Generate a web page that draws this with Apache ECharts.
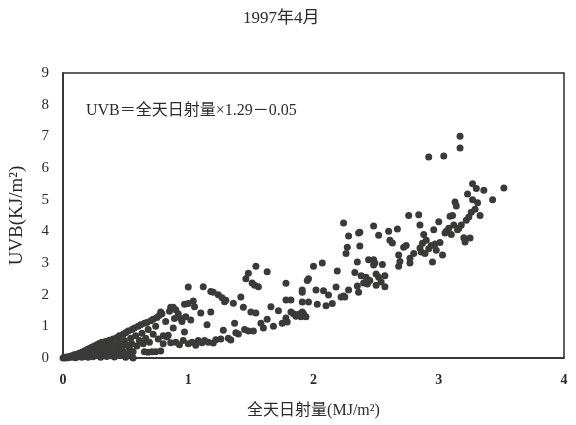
<!DOCTYPE html>
<html lang="zh-CN">
	<head>
		<meta charset="utf-8" />
		<title>1997年4月 UVB</title>
		<style>
			html, body { margin: 0; padding: 0; background: #fff; }
			#scatter { width: 576px; height: 425px; }
		</style>
	</head>
	<body>
		<div id="scatter"></div>
		<script type="text/javascript" src="https://cdn.jsdelivr.net/npm/echarts@6/dist/echarts.min.js"></script>
		<script type="text/javascript">
			//标题与公式
			const chartTitle = '1997年4月';
			const formulaText = 'UVB＝全天日射量×1.29－0.05';
			const xName = '全天日射量(MJ/m²)';
			const yName = 'UVB(KJ/m²)';
			//坐标刻度
			const xTicks = [0, 1, 2, 3, 4];
			const yTicks = [0, 1, 2, 3, 4, 5, 6, 7, 8, 9];
			//数据 [全天日射量, UVB]
			const samples = [
				[0.00,0.00],[0.01,0.02],[0.02,0.00],[0.03,0.03],[0.04,0.01],[0.05,0.05],[0.06,0.02],[0.07,0.07],
				[0.08,0.03],[0.09,0.10],[0.10,0.05],[0.10,0.01],[0.11,0.12],[0.12,0.04],[0.13,0.15],[0.14,0.08],
				[0.15,0.02],[0.15,0.18],[0.16,0.10],[0.17,0.22],[0.18,0.05],[0.18,0.14],[0.19,0.26],[0.20,0.02],
				[0.20,0.18],[0.21,0.30],[0.22,0.10],[0.23,0.34],[0.23,0.22],[0.24,0.04],[0.25,0.38],[0.25,0.15],
				[0.26,0.28],[0.27,0.42],[0.28,0.08],[0.28,0.33],[0.29,0.46],[0.30,0.20],[0.30,0.02],[0.31,0.50],
				[0.32,0.38],[0.32,0.12],[0.33,0.28],[0.34,0.52],[0.35,0.05],[0.35,0.42],[0.36,0.18],[0.37,0.56],
				[0.37,0.32],[0.38,0.10],[0.39,0.48],[0.40,0.60],[0.40,0.25],[0.41,0.03],[0.42,0.40],[0.43,0.65],
				[0.43,0.15],[0.44,0.30],[0.45,0.70],[0.45,0.50],[0.46,0.08],[0.47,0.35],[0.48,0.75],[0.48,0.22],
				[0.49,0.55],[0.50,0.80],[0.50,0.02],[0.51,0.42],[0.52,0.12],[0.52,0.85],[0.53,0.30],[0.54,0.62],
				[0.55,0.90],[0.55,0.45],[0.56,0.00],[0.56,0.20],[0.57,0.95],[0.58,0.70],[0.59,0.38],[0.60,1.00],
				[0.61,0.55],[0.62,1.05],[0.63,0.78],[0.64,0.45],[0.65,1.10],[0.65,0.20],[0.66,0.62],[0.67,1.12],
				[0.68,0.18],[0.68,0.90],[0.69,0.50],[0.70,1.18],[0.71,0.20],[0.72,1.22],[0.72,0.75],[0.74,0.20],
				[0.74,1.00],[0.75,1.28],[0.76,0.60],[0.77,1.35],[0.78,0.22],[0.78,1.45],[0.79,1.40],[0.80,0.70],
				[0.80,0.45],[0.82,1.15],[0.83,0.66],[0.84,0.72],[0.85,1.48],[0.86,1.60],[0.86,0.48],[0.88,1.60],
				[0.88,0.95],[0.89,1.25],[0.90,1.52],[0.90,0.50],[0.92,1.40],[0.93,0.42],[0.94,1.25],[0.95,1.15],
				[0.96,0.55],[0.97,1.70],[0.97,0.82],[0.98,1.30],[1.00,1.72],[1.00,2.24],[1.00,0.45],[1.02,1.20],
				[1.03,0.50],[1.04,1.80],[1.05,1.62],[1.06,0.40],[1.08,0.55],[1.10,1.42],[1.11,0.48],[1.12,2.25],
				[1.13,0.55],[1.15,1.05],[1.16,0.50],[1.18,1.45],[1.18,2.10],[1.20,2.08],[1.20,0.47],[1.22,0.58],
				[1.24,2.00],[1.26,0.60],[1.27,1.90],[1.28,0.88],[1.29,1.78],[1.30,1.82],[1.32,0.62],[1.34,0.57],
				[1.36,1.73],[1.37,1.10],[1.38,0.80],[1.40,0.76],[1.42,1.93],[1.44,1.60],[1.45,0.90],[1.46,2.50],
				[1.48,2.68],[1.48,0.85],[1.50,1.45],[1.51,2.37],[1.52,0.85],[1.53,2.30],[1.54,2.90],[1.54,1.42],
				[1.56,2.25],[1.58,1.10],[1.60,0.95],[1.63,1.22],[1.63,2.72],[1.66,1.62],[1.68,1.00],[1.72,1.49],
				[1.75,1.10],[1.78,2.36],[1.78,1.26],[1.79,1.14],[1.78,1.83],[1.82,1.83],[1.82,1.45],[1.84,1.40],
				[1.86,1.32],[1.88,1.38],[1.90,1.30],[1.91,2.08],[1.91,1.77],[1.91,1.45],[1.92,1.40],[1.94,1.30],
				[1.96,1.77],[1.91,2.15],[1.95,2.45],[1.96,2.50],[2.00,2.90],[2.02,2.15],[2.03,1.70],[2.07,3.00],
				[2.08,2.12],[2.10,1.65],[2.12,1.99],[2.15,1.72],[2.18,2.24],[2.19,2.75],[2.22,1.93],[2.24,1.96],
				[2.24,4.26],[2.25,1.93],[2.26,3.30],[2.27,3.50],[2.28,3.85],[2.28,2.15],[2.33,2.70],[2.35,2.27],
				[2.35,3.03],[2.36,2.08],[2.36,3.95],[2.37,3.97],[2.37,3.54],[2.38,2.60],[2.40,2.37],[2.42,2.55],
				[2.43,2.34],[2.44,3.10],[2.45,2.45],[2.48,2.94],[2.48,3.10],[2.48,4.17],[2.49,3.00],[2.50,2.65],
				[2.50,2.30],[2.52,3.88],[2.52,2.55],[2.54,2.40],[2.55,2.95],[2.57,2.60],[2.57,2.25],[2.60,4.00],
				[2.61,3.72],[2.63,3.63],[2.67,4.07],[2.68,3.25],[2.68,2.90],[2.69,3.05],[2.72,3.50],[2.74,3.55],
				[2.76,4.50],[2.77,3.15],[2.77,3.00],[2.80,3.30],[2.84,4.52],[2.85,3.47],[2.85,4.20],[2.86,3.35],
				[2.87,3.62],[2.88,3.90],[2.89,3.30],[2.90,3.72],[2.92,3.45],[2.92,6.35],[2.94,3.55],[2.95,3.03],
				[2.96,4.05],[2.97,3.60],[2.98,3.40],[3.00,4.30],[3.01,3.65],[3.03,3.25],[3.04,6.38],[3.05,3.95],
				[3.06,4.00],[3.08,4.10],[3.09,4.48],[3.10,3.90],[3.11,4.50],[3.12,4.20],[3.13,4.93],[3.14,4.80],
				[3.15,4.05],[3.16,4.10],[3.17,7.00],[3.17,6.63],[3.18,4.20],[3.20,3.80],[3.21,3.66],[3.22,4.35],
				[3.23,5.18],[3.24,4.45],[3.25,3.79],[3.26,4.60],[3.27,5.00],[3.27,5.50],[3.29,4.70],[3.30,5.35],
				[3.31,4.90],[3.33,4.50],[3.36,5.30],[3.43,5.00],[3.52,5.37]
			];

			const serif = "'Liberation Serif', 'DejaVu Serif', 'Noto Sans CJK SC', serif";
			const ink = '#2b2b2b';

			const chart = echarts.init(document.getElementById('scatter'));
			const option = {
				backgroundColor: '#fff',
				animation: false,
				title: {
					text: chartTitle,
					left: 238,
					top: 5,
					textStyle: { fontFamily: serif, fontSize: 17, fontWeight: 'normal', color: ink }
				},
				graphic: [{
					type: 'text',
					left: 86,
					top: 103,
					style: { text: formulaText, font: '16px ' + serif, fill: ink }
				}],
				grid: {
					left: 62, right: 12, top: 73, bottom: 67,
					show: true, borderColor: ink, borderWidth: 1.5, backgroundColor: 'transparent'
				},
				xAxis: {
					type: 'value',
					min: xTicks[0], max: xTicks[xTicks.length - 1], interval: 1,
					name: xName, nameLocation: 'middle', nameGap: 45,
					nameTextStyle: { fontFamily: serif, fontSize: 16, color: ink },
					axisLine: { lineStyle: { color: ink, width: 1.5 } },
					axisTick: { show: false },
					splitLine: { show: false },
					axisLabel: { margin: 15, fontFamily: serif, fontSize: 14, fontWeight: 'bold', color: ink }
				},
				yAxis: {
					type: 'value',
					min: yTicks[0], max: yTicks[yTicks.length - 1], interval: 1,
					name: yName, nameLocation: 'middle', nameGap: 36, nameRotate: 90,
					nameTextStyle: { fontFamily: serif, fontSize: 19, color: ink },
					axisLine: { lineStyle: { color: ink, width: 1.5 } },
					axisTick: { show: false },
					splitLine: { show: false },
					axisLabel: { margin: 14, fontFamily: serif, fontSize: 15, color: ink }
				},
				series: [{
					type: 'scatter',
					data: samples,
					symbol: 'circle',
					symbolSize: 7,
					itemStyle: { color: '#3a3a38', opacity: 1 }
				}]
			};
			chart.setOption(option);
			window.onresize = function() {
				chart.resize();
			};
		</script>
	</body>
</html>
